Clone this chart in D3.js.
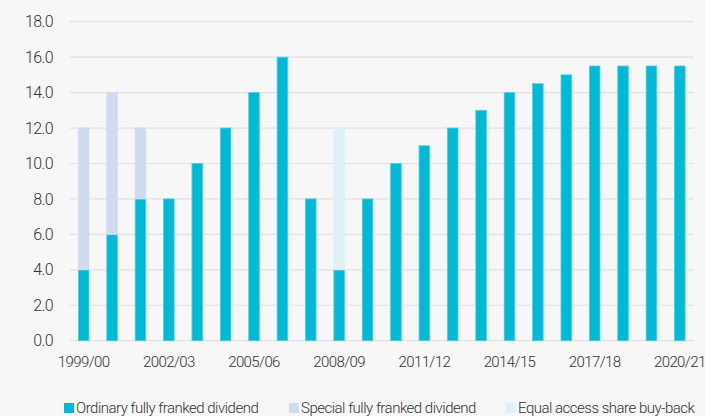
<!DOCTYPE html>
<html>
<head>
<meta charset="utf-8">
<script src="https://cdn.jsdelivr.net/npm/d3@7"></script>
<style>
  body { margin: 0; background: #f7f7f7; }
  svg { display: block; font-family: Roboto, "Open Sans", sans-serif; font-weight: 300; }
</style>
</head>
<body>
<svg id="chart" width="705" height="416"></svg>
<script>
// data
const years = ["1999/00","2000/01","2001/02","2002/03","2003/04","2004/05","2005/06","2006/07",
  "2007/08","2008/09","2009/10","2010/11","2011/12","2012/13","2013/14","2014/15","2015/16",
  "2016/17","2017/18","2018/19","2019/20","2020/21"];
const ordinary = [4, 6, 8, 8, 10, 12, 14, 16, 8, 4, 8, 10, 11, 12, 13, 14, 14.5, 15, 15.5, 15.5, 15.5, 15.5];
const special  = [8, 8, 4, 0, 0, 0, 0, 0, 0, 0, 0, 0, 0, 0, 0, 0, 0, 0, 0, 0, 0, 0];
const buyBack  = [0, 0, 0, 0, 0, 0, 0, 0, 0, 8, 0, 0, 0, 0, 0, 0, 0, 0, 0, 0, 0, 0];
const seriesNames = ["Ordinary fully franked dividend", "Special fully franked dividend", "Equal access share buy-back"];
const yTicks = [0, 2, 4, 6, 8, 10, 12, 14, 16, 18];
const xTickLabels = ["1999/00","2002/03","2005/06","2008/09","2011/12","2014/15","2017/18","2020/21"];

const colors = ["#00bad5", "#cfdbef", "#dff1f6"];
const strokes = ["#4ccde0", "#cfdbef", "#dff1f6"];

const svg = d3.select("#chart");

let rows = years.map((y, i) => ({ year: y, a: ordinary[i], b: special[i], c: buyBack[i] }));
let stack = d3.stack().keys(["a", "b", "c"])(rows);

let x = d3.scaleBand()
    .domain(years)
    .range([69.5, 694])
    .paddingInner(0.6)
    .paddingOuter(0.3);

let y = d3.scaleLinear()
    .domain([0, 18])
    .range([340.7, 21.7]);

// gridlines
svg.append("g")
    .selectAll("line")
    .data(yTicks)
    .enter()
    .append("line")
      .attr("x1", 69.5)
      .attr("x2", 694)
      .attr("y1", d => y(d))
      .attr("y2", d => y(d))
      .attr("stroke", "#e2e2e2")
      .attr("stroke-width", 1.2);

// y tick labels
svg.append("g")
    .selectAll("text")
    .data(yTicks)
    .enter()
    .append("text")
      .attr("x", 53)
      .attr("y", d => y(d))
      .attr("dy", "0.35em")
      .attr("text-anchor", "end")
      .style("font-size", "16px")
      .style("letter-spacing", "-0.6px")
      .attr("fill", "#333")
      .text(d => d.toFixed(1));

// bars
svg.append("g")
    .selectAll("g")
    .data(stack)
    .enter()
    .append("g")
      .attr("fill", (d, i) => colors[i])
      .attr("stroke", (d, i) => strokes[i])
      .attr("stroke-width", 0.8)
    .selectAll("rect")
    .data(d => d.filter(p => p[1] > p[0]))
    .enter()
    .append("rect")
      .attr("x", d => x(d.data.year) + 0.4)
      .attr("y", d => y(d[1]))
      .attr("width", x.bandwidth() - 0.8)
      .attr("height", d => y(d[0]) - y(d[1]));

// x tick labels
svg.append("g")
    .selectAll("text")
    .data(xTickLabels)
    .enter()
    .append("text")
      .attr("x", d => x(d) + x.bandwidth() / 2)
      .attr("y", 362)
      .attr("dy", "0.35em")
      .attr("text-anchor", "middle")
      .style("font-size", "15px")
      .style("letter-spacing", "-0.6px")
      .attr("fill", "#333")
      .text(d => d);

// legend
const legendX = [64, 289, 506];
let legend = svg.append("g")
    .selectAll("g")
    .data(seriesNames)
    .enter()
    .append("g")
      .attr("transform", (d, i) => "translate(" + legendX[i] + ",408)");
legend.append("rect")
    .attr("x", 0)
    .attr("y", -5)
    .attr("width", 10)
    .attr("height", 10)
    .attr("fill", (d, i) => colors[i]);
legend.append("text")
    .attr("x", 12)
    .attr("y", 0)
    .attr("dy", "0.35em")
    .style("font-size", "15px")
    .style("letter-spacing", "-0.5px")
    .attr("fill", "#333")
    .text(d => d);
</script>
</body>
</html>
